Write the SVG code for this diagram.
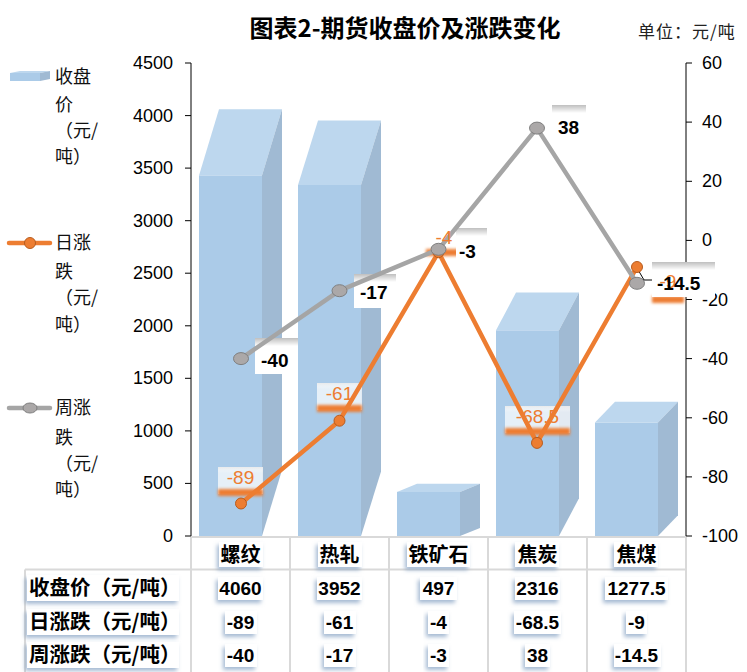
<svg xmlns="http://www.w3.org/2000/svg" width="747" height="672" viewBox="0 0 747 672">
<defs>
<style>
.cjk{font-family:"Noto Sans CJK SC","Liberation Sans",sans-serif}
.num{font-family:"Liberation Sans","Noto Sans CJK SC",sans-serif}
.axl{font-family:"Liberation Sans",sans-serif;font-size:18px;fill:#000}
.front{fill:#ABCBE8}
.top{fill:#BDD7EE}
.side{fill:#A0BAD3}
.grid{stroke:#D9D9D9;stroke-width:2;fill:none}
.cell{fill:#fff;filter:url(#shadow)}
.hdr{font-family:"Noto Sans CJK SC",sans-serif;font-size:20px;font-weight:bold;fill:#000;text-anchor:middle}
.val{font-family:"Liberation Sans","Noto Sans CJK SC",sans-serif;font-size:19px;font-weight:bold;fill:#000;text-anchor:middle}
.rowl{font-family:"Noto Sans CJK SC",sans-serif;font-size:20.5px;font-weight:bold;fill:#000}
.leg{font-family:"Noto Sans CJK SC",sans-serif;font-size:18px;fill:#111}
.olab{font-family:"Liberation Sans",sans-serif;font-size:19px;fill:#ED7D31;text-anchor:middle}
.glab{font-family:"Liberation Sans",sans-serif;font-size:19px;font-weight:bold;fill:#000}
.obox{fill:#fff;fill-opacity:0.7}
.oband{fill:#ED7D31;filter:url(#blur)}
.gbox{fill:#fff}
.gband{fill:url(#gtop)}
.om{fill:#ED7D31;stroke:#B85C1E;stroke-width:1}
.gm{fill:#ABA8A8;stroke:#7F7F7F;stroke-width:1}
</style>
<filter id="shadow" x="-20%" y="-30%" width="140%" height="170%">
<feDropShadow dx="-2" dy="3" stdDeviation="2" flood-color="#7F9CC0" flood-opacity="0.7"/>
</filter>
<filter id="blur" x="-10%" y="-100%" width="120%" height="300%">
<feGaussianBlur stdDeviation="1.5"/>
</filter>
<linearGradient id="gtop" x1="0" y1="0" x2="0" y2="1">
<stop offset="0" stop-color="#BFBFBF"/>
<stop offset="1" stop-color="#FFFFFF"/>
</linearGradient>
<linearGradient id="otop" x1="0" y1="0" x2="0" y2="1">
<stop offset="0" stop-color="#E8E8E8" stop-opacity="0.8"/>
<stop offset="1" stop-color="#FFFFFF" stop-opacity="0"/>
</linearGradient>
</defs>
<rect width="747" height="672" fill="#fff"/>

<g id="title">
<text x="405" y="37" class="cjk" font-size="24" font-weight="bold" text-anchor="middle" fill="#000">图表2-期货收盘价及涨跌变化</text>
<text x="638" y="38" class="cjk" font-size="17" fill="#222" letter-spacing="1">单位：元/吨</text>
</g>

<g id="legend">
<g id="legend-close">
<polygon class="front" points="10,73 40,73 40,81 10,81"/>
<polygon class="top" points="10,73 40,73 50,71 20,71"/>
<polygon class="side" points="40,73 50,71 50,79 40,81"/>
<text class="leg" x="55" y="83">收盘</text>
<text class="leg" x="55" y="111">价</text>
<text class="leg" x="55" y="137">（元/</text>
<text class="leg" x="55" y="163">吨）</text>
</g>
<g id="legend-daily">
<line x1="9" y1="243" x2="50" y2="243" stroke="#ED7D31" stroke-width="4.5" stroke-linecap="round"/>
<circle class="om" cx="30" cy="243" r="5.5"/>
<text class="leg" x="55" y="249">日涨</text>
<text class="leg" x="55" y="278">跌</text>
<text class="leg" x="55" y="304">（元/</text>
<text class="leg" x="55" y="331">吨）</text>
</g>
<g id="legend-weekly">
<line x1="9" y1="408" x2="50" y2="408" stroke="#A5A5A5" stroke-width="4.5" stroke-linecap="round"/>
<ellipse class="gm" cx="30" cy="408" rx="7" ry="5"/>
<text class="leg" x="55" y="414">周涨</text>
<text class="leg" x="55" y="444">跌</text>
<text class="leg" x="55" y="470">（元/</text>
<text class="leg" x="55" y="496">吨）</text>
</g>
</g>

<g id="axes">
<g id="left-axis" stroke="#000" stroke-width="1">
<line x1="191" y1="63" x2="191" y2="536"/>
<line x1="185" y1="63" x2="191" y2="63"/>
<line x1="185" y1="115.6" x2="191" y2="115.6"/>
<line x1="185" y1="168.1" x2="191" y2="168.1"/>
<line x1="185" y1="220.7" x2="191" y2="220.7"/>
<line x1="185" y1="273.2" x2="191" y2="273.2"/>
<line x1="185" y1="325.8" x2="191" y2="325.8"/>
<line x1="185" y1="378.3" x2="191" y2="378.3"/>
<line x1="185" y1="430.9" x2="191" y2="430.9"/>
<line x1="185" y1="483.4" x2="191" y2="483.4"/>
<line x1="185" y1="536" x2="191" y2="536"/>
</g>
<g text-anchor="end" class="axl">
<text x="173" y="69">4500</text>
<text x="173" y="121.6">4000</text>
<text x="173" y="174.1">3500</text>
<text x="173" y="226.7">3000</text>
<text x="173" y="279.2">2500</text>
<text x="173" y="331.8">2000</text>
<text x="173" y="384.3">1500</text>
<text x="173" y="436.9">1000</text>
<text x="173" y="489.4">500</text>
<text x="173" y="542">0</text>
</g>
<g id="right-axis" stroke="#000" stroke-width="1">
<line x1="686" y1="63" x2="686" y2="536"/>
<line x1="686" y1="63" x2="692" y2="63"/>
<line x1="686" y1="122.1" x2="692" y2="122.1"/>
<line x1="686" y1="181.3" x2="692" y2="181.3"/>
<line x1="686" y1="240.4" x2="692" y2="240.4"/>
<line x1="686" y1="299.5" x2="692" y2="299.5"/>
<line x1="686" y1="358.6" x2="692" y2="358.6"/>
<line x1="686" y1="417.8" x2="692" y2="417.8"/>
<line x1="686" y1="476.9" x2="692" y2="476.9"/>
<line x1="686" y1="536" x2="692" y2="536"/>
</g>
<g class="axl">
<text x="702" y="69">60</text>
<text x="702" y="128.1">40</text>
<text x="702" y="187.3">20</text>
<text x="702" y="246.4">0</text>
<text x="702" y="305.5">-20</text>
<text x="702" y="364.6">-40</text>
<text x="702" y="423.8">-60</text>
<text x="702" y="482.9">-80</text>
<text x="702" y="542">-100</text>
</g>
</g>

<g id="bars">
<g id="bar-luowen">
<rect class="front" x="199" y="175.4" width="63" height="360.6"/>
<polygon class="top" points="199,175.4 262,175.4 282,109.3 219,109.3"/>
<polygon class="side" points="262,175.4 282,109.3 282,469.9 262,536"/>
</g>
<g id="bar-rezha">
<rect class="front" x="298" y="185" width="63" height="351"/>
<polygon class="top" points="298,185 361,185 381,120.6 318,120.6"/>
<polygon class="side" points="361,185 381,120.6 381,471.6 361,536"/>
</g>
<g id="bar-tiekuangshi">
<rect class="front" x="397" y="491.9" width="63" height="44.1"/>
<polygon class="top" points="397,491.9 460,491.9 480,483.8 417,483.8"/>
<polygon class="side" points="460,491.9 480,483.8 480,527.9 460,536"/>
</g>
<g id="bar-jiaotan">
<rect class="front" x="496" y="330.3" width="63" height="205.7"/>
<polygon class="top" points="496,330.3 559,330.3 579,292.6 516,292.6"/>
<polygon class="side" points="559,330.3 579,292.6 579,498.3 559,536"/>
</g>
<g id="bar-jiaomei">
<rect class="front" x="595" y="422.5" width="63" height="113.5"/>
<polygon class="top" points="595,422.5 658,422.5 678,401.7 615,401.7"/>
<polygon class="side" points="658,422.5 678,401.7 678,515.2 658,536"/>
</g>
</g>

<g id="label-boxes">
<g id="obox-1"><rect class="obox" x="218" y="467" width="45" height="27"/><rect x="218" y="467" width="45" height="6" fill="url(#otop)"/><rect class="oband" x="218" y="489" width="45" height="7"/></g>
<g id="obox-2"><rect class="obox" x="317" y="383" width="45" height="27"/><rect x="317" y="383" width="45" height="6" fill="url(#otop)"/><rect class="oband" x="317" y="405" width="45" height="7"/></g>
<g id="obox-3"><rect class="obox" x="426" y="227" width="35" height="27"/><rect class="oband" x="426" y="249" width="35" height="7"/></g>
<g id="obox-4"><rect class="obox" x="505" y="406" width="65" height="27"/><rect x="505" y="406" width="65" height="6" fill="url(#otop)"/><rect class="oband" x="505" y="428" width="65" height="7"/></g>
<g id="obox-5"><rect class="obox" x="652" y="272" width="32" height="27"/><rect class="oband" x="652" y="296" width="32" height="7"/></g>
<g id="gbox-1"><rect class="gbox" x="255" y="338" width="43" height="36"/><rect class="gband" x="255" y="338" width="43" height="8"/></g>
<g id="gbox-2"><rect class="gbox" x="354" y="274" width="42" height="34"/><rect class="gband" x="354" y="274" width="42" height="8"/></g>
<g id="gbox-3"><rect class="gbox" x="456" y="228" width="31" height="35"/><rect class="gband" x="456" y="228" width="31" height="8"/></g>
<g id="gbox-4"><rect class="gbox" x="552" y="105" width="34" height="35"/><rect class="gband" x="552" y="105" width="34" height="8"/></g>
<g id="gbox-5"><rect class="gbox" x="652" y="262" width="63" height="35"/><rect class="gband" x="652" y="262" width="63" height="8"/></g>
</g>

<g id="connectors">
<polyline id="line-daily" points="241,503.5 339.5,420.7 438.5,252.2 537,442.9 637,267" fill="none" stroke="#ED7D31" stroke-width="4.5" stroke-linejoin="round"/>
<polyline id="line-weekly" points="241,358.6 339.5,290.7 438.5,249.3 537,128.1 637,283.3" fill="none" stroke="#A5A5A5" stroke-width="4.5" stroke-linejoin="round"/>
<polyline id="leader" points="637,268 644,280 652,280" fill="none" stroke="#000" stroke-width="1"/>
</g>

<g id="markers">
<circle class="om" cx="241" cy="503.5" r="5.5"/>
<circle class="om" cx="339.5" cy="420.7" r="5.5"/>
<circle class="om" cx="438.5" cy="252.2" r="5.5"/>
<circle class="om" cx="537" cy="442.9" r="5.5"/>
<circle class="om" cx="637" cy="267" r="5.5"/>
<ellipse class="gm" cx="241" cy="358.6" rx="7.5" ry="6"/>
<ellipse class="gm" cx="339.5" cy="290.7" rx="7.5" ry="6"/>
<ellipse class="gm" cx="438.5" cy="249.3" rx="7.5" ry="6"/>
<ellipse class="gm" cx="537" cy="128.1" rx="7.5" ry="6"/>
<ellipse class="gm" cx="637" cy="283.3" rx="7.5" ry="6"/>
</g>

<g id="data-labels">
<text class="olab" x="240.5" y="484">-89</text>
<text class="olab" x="339.5" y="400">-61</text>
<text class="olab" x="444" y="244">-4</text>
<text class="olab" x="537.5" y="423">-68.5</text>
<text class="olab" x="668" y="288">-9</text>
<text class="glab" x="261" y="367">-40</text>
<text class="glab" x="360" y="299">-17</text>
<text class="glab" x="459" y="258">-3</text>
<text class="glab" x="558" y="134">38</text>
<text class="glab" x="657" y="290">-14.5</text>
</g>

<g id="table">
<g id="table-grid">
<line class="grid" x1="191" y1="537" x2="686" y2="537"/>
<line class="grid" x1="25" y1="569.5" x2="686" y2="569.5"/>
<line class="grid" x1="25" y1="569.5" x2="25" y2="672"/>
<line class="grid" x1="191" y1="537" x2="191" y2="672"/>
<line class="grid" x1="290" y1="537" x2="290" y2="672"/>
<line class="grid" x1="389" y1="537" x2="389" y2="672"/>
<line class="grid" x1="488" y1="537" x2="488" y2="672"/>
<line class="grid" x1="587" y1="537" x2="587" y2="672"/>
<line class="grid" x1="686" y1="537" x2="686" y2="672"/>
</g>
<g id="table-header">
<rect class="cell" x="219" y="542" width="44" height="25"/><text class="hdr" x="240.5" y="562">螺纹</text>
<rect class="cell" x="318" y="542" width="44" height="25"/><text class="hdr" x="339.5" y="562">热轧</text>
<rect class="cell" x="407" y="542" width="63" height="25"/><text class="hdr" x="438.5" y="562">铁矿石</text>
<rect class="cell" x="515" y="542" width="44" height="25"/><text class="hdr" x="537.5" y="562">焦炭</text>
<rect class="cell" x="614" y="542" width="44" height="25"/><text class="hdr" x="636.5" y="562">焦煤</text>
</g>
<g id="row-close">
<rect class="cell" x="27" y="575" width="152" height="26"/><text class="rowl" x="29" y="595">收盘价（元/吨）</text>
<rect class="cell" x="218" y="577" width="45" height="23"/><text class="val" x="240.5" y="595">4060</text>
<rect class="cell" x="317" y="577" width="45" height="23"/><text class="val" x="339.5" y="595">3952</text>
<rect class="cell" x="420" y="577" width="37" height="23"/><text class="val" x="438.5" y="595">497</text>
<rect class="cell" x="515" y="577" width="45" height="23"/><text class="val" x="537.5" y="595">2316</text>
<rect class="cell" x="605" y="577" width="63" height="23"/><text class="val" x="636.5" y="595">1277.5</text>
</g>
<g id="row-daily">
<rect class="cell" x="27" y="609" width="152" height="26"/><text class="rowl" x="29" y="629">日涨跌（元/吨）</text>
<rect class="cell" x="225" y="611" width="32" height="23"/><text class="val" x="240.5" y="629">-89</text>
<rect class="cell" x="324" y="611" width="32" height="23"/><text class="val" x="339.5" y="629">-61</text>
<rect class="cell" x="428" y="611" width="21" height="23"/><text class="val" x="438.5" y="629">-4</text>
<rect class="cell" x="514" y="611" width="47" height="23"/><text class="val" x="537.5" y="629">-68.5</text>
<rect class="cell" x="626" y="611" width="21" height="23"/><text class="val" x="636.5" y="629">-9</text>
</g>
<g id="row-weekly">
<rect class="cell" x="27" y="642" width="152" height="26"/><text class="rowl" x="29" y="662">周涨跌（元/吨）</text>
<rect class="cell" x="225" y="644" width="32" height="23"/><text class="val" x="240.5" y="662">-40</text>
<rect class="cell" x="324" y="644" width="32" height="23"/><text class="val" x="339.5" y="662">-17</text>
<rect class="cell" x="428" y="644" width="21" height="23"/><text class="val" x="438.5" y="662">-3</text>
<rect class="cell" x="525" y="644" width="25" height="23"/><text class="val" x="537.5" y="662">38</text>
<rect class="cell" x="614" y="644" width="47" height="23"/><text class="val" x="636.5" y="662">-14.5</text>
</g>
</g>
</svg>
